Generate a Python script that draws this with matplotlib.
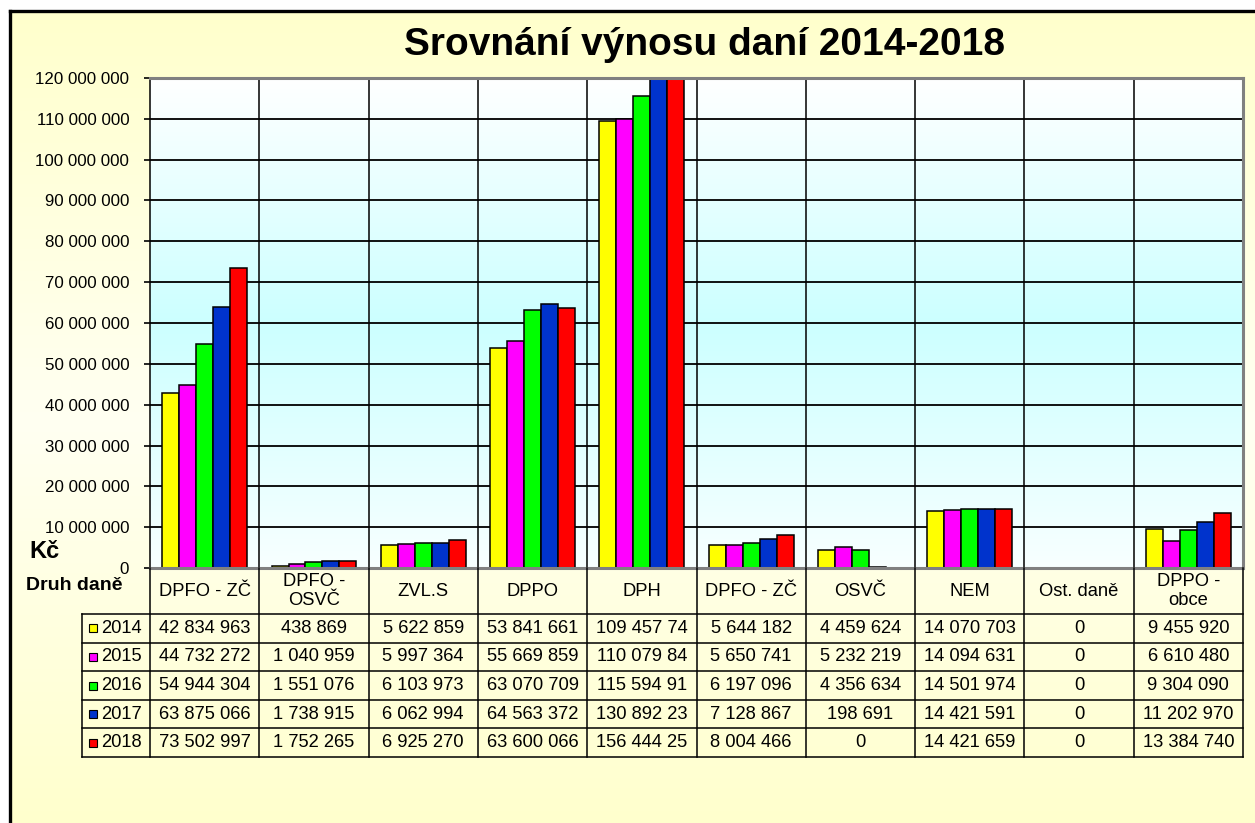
import matplotlib
matplotlib.use("Agg")
import matplotlib.pyplot as plt
import numpy as np
from matplotlib.colors import LinearSegmentedColormap
from matplotlib.patches import Rectangle
from matplotlib.ticker import FuncFormatter

plt.rcParams["font.family"] = ["Liberation Sans", "DejaVu Sans"]

# data
kategorie = ["DPFO - ZČ", "DPFO -\nOSVČ", "ZVL.S", "DPPO", "DPH", "DPFO - ZČ",
             "OSVČ", "NEM", "Ost. daně", "DPPO -\nobce"]
roky = ["2014", "2015", "2016", "2017", "2018"]
v2014 = [42834963, 438869, 5622859, 53841661, 109457740, 5644182, 4459624, 14070703, 0, 9455920]
v2015 = [44732272, 1040959, 5997364, 55669859, 110079840, 5650741, 5232219, 14094631, 0, 6610480]
v2016 = [54944304, 1551076, 6103973, 63070709, 115594910, 6197096, 4356634, 14501974, 0, 9304090]
v2017 = [63875066, 1738915, 6062994, 64563372, 130892230, 7128867, 198691, 14421591, 0, 11202970]
v2018 = [73502997, 1752265, 6925270, 63600066, 156444250, 8004466, 0, 14421659, 0, 13384740]
serie = [v2014, v2015, v2016, v2017, v2018]
barvy = ["#ffff00", "#ff00ff", "#00ff00", "#0033cc", "#ff0000"]


def cislo(v):
    s = f"{v:,.0f}".replace(",", " ")
    return s[:10]  # bunka v tabulce je uzka, delsi cisla se orizou


W, H = 1255, 823
L, R, T, B = 150, 1243, 78, 568   # plocha grafu v pixelech
TB = 757                          # spodek tabulky
fs_tab = 13.2

fig = plt.figure(figsize=(W / 100, H / 100), dpi=100)
fig.patch.set_facecolor("white")

# pozadi cele oblasti grafu (zluty prechod) + ramecek
bg = fig.add_axes([0, 0, 1, 1])
bg.set_xlim(0, W)
bg.set_ylim(H, 0)
bg.axis("off")
cm_zluta = LinearSegmentedColormap.from_list("zl", ["#ffffcc", "#fffff2", "#ffffcc"])
bg.imshow(np.linspace(0, 1, 256).reshape(-1, 1), cmap=cm_zluta, aspect="auto",
          extent=[10, W + 10, H + 10, 11], zorder=0)
cm_modra = LinearSegmentedColormap.from_list("mo", ["#ffffff", "#ccffff", "#f8ffff"])
bg.imshow(np.linspace(0, 1, 256).reshape(-1, 1), cmap=cm_modra, aspect="auto",
          extent=[L, R, B, T], zorder=1)
bg.plot([9.5, W + 5], [11, 11], color="black", lw=2.4, zorder=2)
bg.plot([9.5, 9.5], [11, H + 5], color="black", lw=2.4, zorder=2)

bg.text(705, 45, "Srovnání výnosu daní 2014-2018", fontsize=28, fontweight="bold",
        ha="center", va="center")
bg.text(29, 552, "Kč", fontsize=17, fontweight="bold", ha="left", va="center")
bg.text(26, 586, "Druh daně", fontsize=14, fontweight="bold", ha="left", va="center")

# sloupcovy graf
ax = fig.add_axes([L / W, (H - B) / H, (R - L) / W, (B - T) / H])
ax.set_facecolor("none")
x = np.arange(len(kategorie))
w = 0.155
for j, ser in enumerate(serie):
    ax.bar(x + (j - 2) * w, ser, w, color=barvy[j], edgecolor="black", lw=1.1, zorder=3)

ax.set_xlim(-0.5, len(kategorie) - 0.5)
ax.set_ylim(0, 120e6)
ax.set_yticks(np.arange(0, 120e6 + 1, 10e6))
ax.yaxis.set_major_formatter(FuncFormatter(lambda v, p: f"{v:,.0f}".replace(",", " ")))
ax.tick_params(axis="y", length=4, width=1.2, pad=11, labelsize=12.2)
ax.set_xticks([])
ax.yaxis.grid(True, color="black", lw=1.3, zorder=1)
for i in range(1, len(kategorie)):
    ax.axvline(i - 0.5, color="black", lw=1.1, zorder=1)
ax.spines["left"].set_color("black")
ax.spines["left"].set_linewidth(1.1)
for s in ["top", "right", "bottom"]:
    ax.spines[s].set_color("#808080")
    ax.spines[s].set_linewidth(2.2)
    ax.spines[s].set_zorder(4)

# tabulka s daty pod grafem
tab = fig.add_axes([L / W, (H - TB) / H, (R - L) / W, (TB - B) / H])
tab.set_xlim(-0.5, len(kategorie) - 0.5)
tab.set_ylim(TB - B, 0)
tab.axis("off")
px = 1 / ((R - L) / len(kategorie))   # jeden pixel v jednotkach x
x_leg = -0.5 - 68 * px
hlav = 46
radek = (TB - B - hlav) / len(roky)

for k in range(len(roky) + 1):
    tab.plot([x_leg, len(kategorie) - 0.5], [hlav + k * radek] * 2, color="black",
             lw=1.1, clip_on=False)
for i in range(len(kategorie) + 1):
    tab.plot([i - 0.5] * 2, [0, TB - B], color="black", lw=1.1, clip_on=False)
tab.plot([x_leg] * 2, [hlav, TB - B], color="black", lw=1.1, clip_on=False)

for i, kat in enumerate(kategorie):
    tab.text(i, hlav / 2, kat, fontsize=fs_tab, ha="center", va="center", linespacing=1.15)

for j, ser in enumerate(serie):
    yc = hlav + (j + 0.5) * radek
    tab.add_patch(Rectangle((x_leg + 7 * px, yc - 4), 8 * px, 8, facecolor=barvy[j],
                            edgecolor="black", lw=0.8, clip_on=False))
    tab.text(x_leg + 19 * px, yc, roky[j], fontsize=fs_tab, ha="left", va="center",
             clip_on=False)
    for i, v in enumerate(ser):
        tab.text(i, yc, cislo(v), fontsize=fs_tab, ha="center", va="center")

fig.savefig("out.png", dpi=100)
